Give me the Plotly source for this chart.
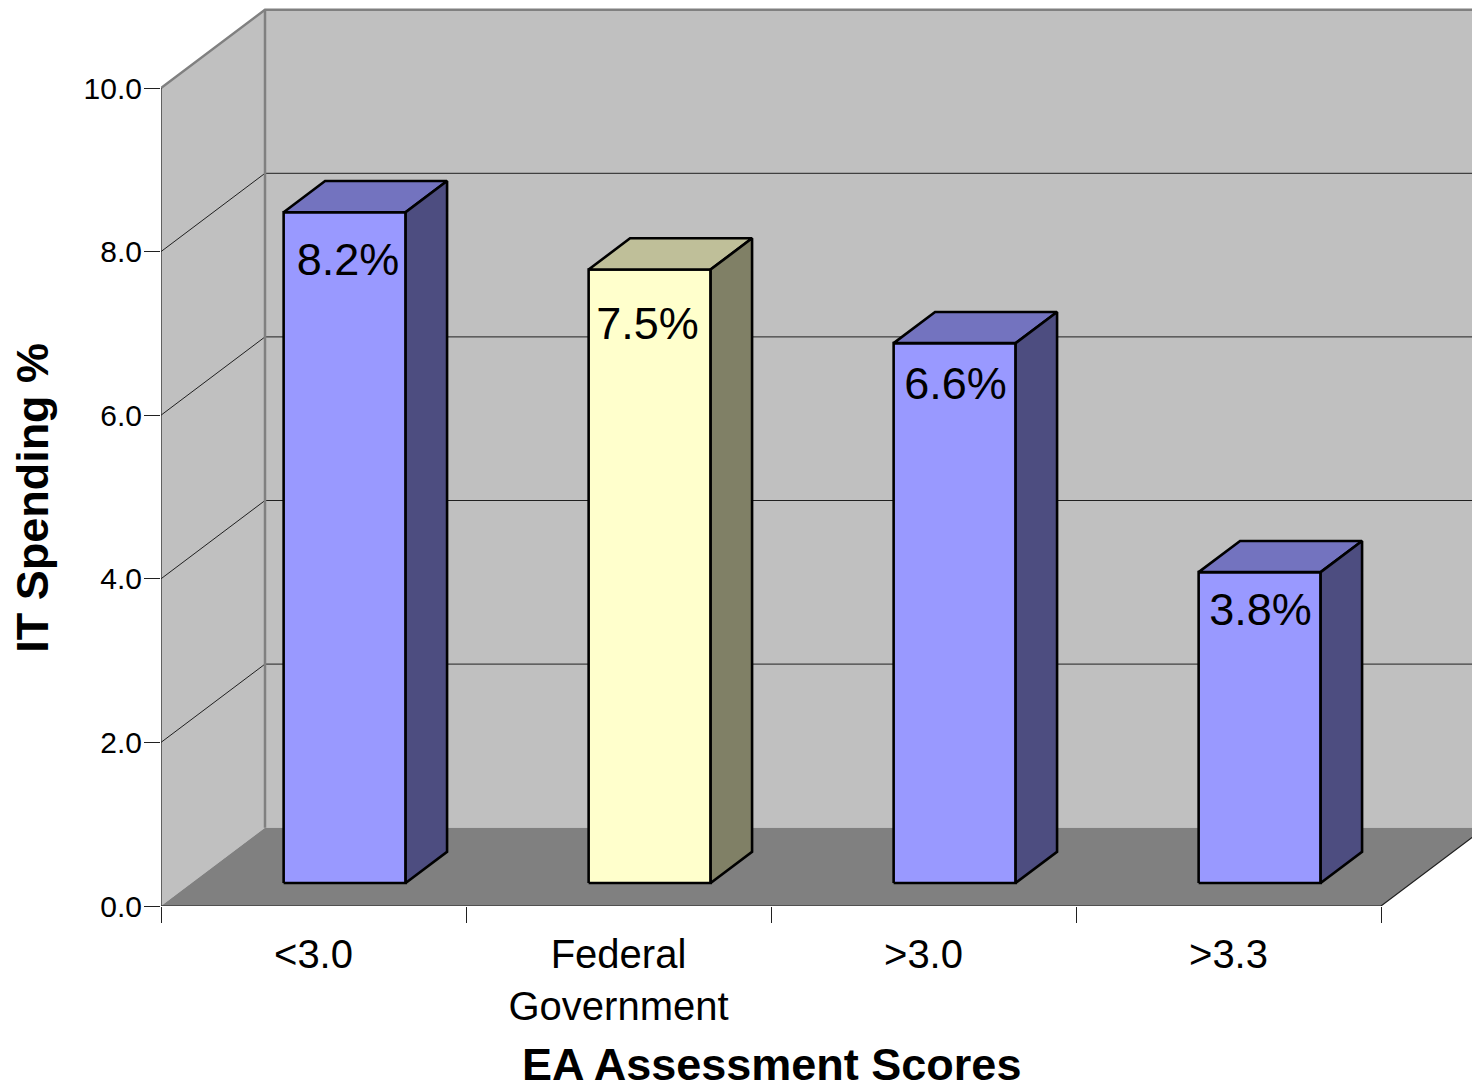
import plotly.graph_objects as go

categories = ["&lt;3.0", "Federal<br>Government", "&gt;3.0", "&gt;3.3"]
values = [8.2, 7.5, 6.6, 3.8]
value_labels = ["8.2%", "7.5%", "6.6%", "3.8%"]
front_colors = ["#9999ff", "#ffffcc", "#9999ff", "#9999ff"]
top_colors = ["#7373bf", "#bfbf99", "#7373bf", "#7373bf"]
side_colors = ["#4d4d80", "#808066", "#4d4d80", "#4d4d80"]
y_ticks = [0, 2, 4, 6, 8, 10]
y_tick_labels = ["0.0", "2.0", "4.0", "6.0", "8.0", "10.0"]
label_x_offsets = [0.213, 0.195, 0.205, 0.205]
label_y_offsets = [0.63, 0.71, 0.55, 0.51]

# Oblique projection, in axis units
PX_X, PX_Y = 305.0, 81.8
DEPTH_X, DEPTH_Y = 104 / PX_X, 78.3 / PX_Y
BAR_W = 122 / PX_X
BAR_SHIFT = 0.6 / PX_X
BAR_D0, BAR_D1 = 0.2937, 0.692
MARGIN_L, MARGIN_B = 161, 177
FONT = "Liberation Sans, Arial, sans-serif"
WALL, FLOOR, EDGE = "#c0c0c0", "#808080", "#808080"


def p(x, v, d=0.0):
    return x + d * DEPTH_X, v + d * DEPTH_Y


fig = go.Figure()


def poly(points, fill=None, line="rgba(0,0,0,0)", width=0.0, name=""):
    xs = [pt[0] for pt in points]
    ys = [pt[1] for pt in points]
    if fill:
        xs, ys = xs + xs[:1], ys + ys[:1]
    fig.add_trace(go.Scatter(
        x=xs, y=ys, mode="lines", name=name, hoverinfo="skip", cliponaxis=False,
        fill="toself" if fill else None, fillcolor=fill,
        line=dict(color=line, width=width, simplify=False),
    ))


X_MAX = 4.0
TOP = 10
# walls and floor
poly([p(0, 0), p(0, TOP), p(0, TOP, 1), p(0, 0, 1)], fill=WALL, name="left wall")
poly([p(0, 0, 1), p(0, TOP, 1), p(X_MAX, TOP, 1), p(X_MAX, 0, 1)], fill=WALL, name="back wall")
poly([p(0, 0), p(0, 0, 1), p(X_MAX, 0, 1), p(X_MAX, 0)], fill=FLOOR, name="floor")
# gridlines
for v in y_ticks[1:-1]:
    poly([p(0, v), p(0, v, 1), p(X_MAX, v, 1)], line="#202020", width=1.0, name="grid")
# wall edges
poly([p(0, TOP), p(0, TOP, 1), p(X_MAX, TOP, 1)], line=EDGE, width=2.5, name="top edge")
poly([p(0, TOP, 1), p(0, 0, 1)], line=EDGE, width=2.5, name="corner")
# axis lines
poly([p(0, 0), p(0, TOP)], line="#202020", width=1.2, name="y axis")
poly([p(0, 0), p(X_MAX, 0), p(X_MAX, 0, 1)], line="#202020", width=1.2, name="x axis")

# bars
for i, v in enumerate(values):
    x0 = i + (1 - BAR_W) / 2 + BAR_SHIFT
    x1 = x0 + BAR_W
    poly([p(x0, 0, BAR_D0), p(x0, v, BAR_D0), p(x1, v, BAR_D0), p(x1, 0, BAR_D0)],
         fill=front_colors[i], line="black", width=2.6, name="front")
    poly([p(x0, v, BAR_D0), p(x0, v, BAR_D1), p(x1, v, BAR_D1), p(x1, v, BAR_D0)],
         fill=top_colors[i], line="black", width=2.6, name="top")
    poly([p(x1, 0, BAR_D0), p(x1, v, BAR_D0), p(x1, v, BAR_D1), p(x1, 0, BAR_D1)],
         fill=side_colors[i], line="black", width=2.6, name="side")

# value labels
label_x, label_y = [], []
for i, v in enumerate(values):
    lx, ly = p(i + (1 - BAR_W) / 2 + label_x_offsets[i], v - label_y_offsets[i], BAR_D0)
    label_x.append(lx)
    label_y.append(ly)
fig.add_trace(go.Scatter(
    x=label_x, y=label_y, mode="text", text=value_labels, textposition="middle center",
    textfont=dict(family=FONT, size=45, color="black"), hoverinfo="skip", cliponaxis=False,
))

fig.update_layout(
    width=1472, height=1083, showlegend=False,
    margin=dict(l=MARGIN_L, r=0, t=0, b=MARGIN_B, autoexpand=False),
    paper_bgcolor="white", plot_bgcolor="white",
    font=dict(family=FONT, color="black"),
    xaxis=dict(
        range=[0, (1472 - MARGIN_L) / PX_X], showgrid=False, zeroline=False, showline=False,
        tickmode="array", tickvals=[0.5, 1.5, 2.5, 3.5], ticktext=categories,
        ticks="outside", ticklen=13, tickcolor="rgba(0,0,0,0)", tickfont=dict(size=40),
        minor=dict(tickmode="array", tickvals=[0, 1, 2, 3, 4], ticks="outside",
                   ticklen=16, tickwidth=1.2, tickcolor="#202020", showgrid=False),
    ),
    yaxis=dict(
        range=[0, (1083 - MARGIN_B) / PX_Y], showgrid=False, zeroline=False, showline=False,
        tickmode="array", tickvals=y_ticks, ticktext=y_tick_labels,
        ticks="outside", ticklen=12, tickcolor="rgba(0,0,0,0)", tickfont=dict(size=30),
        minor=dict(tickmode="array", tickvals=y_ticks, ticks="outside",
                   ticklen=16, tickwidth=1.2, tickcolor="#202020", showgrid=False),
    ),
    annotations=[
        dict(text="<b>EA Assessment Scores</b>", xref="x", x=2, yref="paper", y=-0.1744,
             xanchor="center", yanchor="middle", showarrow=False, font=dict(size=45)),
        dict(text="<b>IT Spending %</b>", xref="paper", x=-0.0976, yref="y", y=4.99,
             xanchor="center", yanchor="middle", textangle=-90, showarrow=False,
             font=dict(size=45)),
    ],
)

fig.write_html(
    "out.html",
    config=dict(displayModeBar=False),
    post_script="document.body.style.margin='0';document.body.style.overflow='hidden';",
)
